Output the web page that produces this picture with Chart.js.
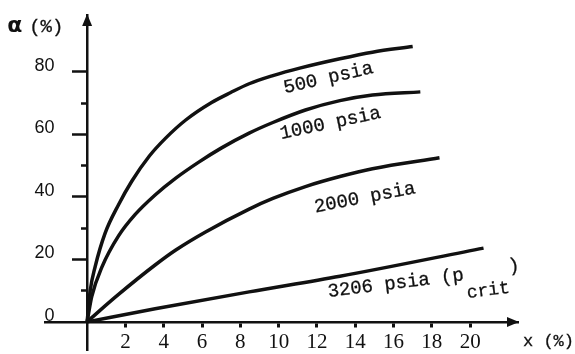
<!DOCTYPE html>
<html>
<head>
<meta charset="utf-8">
<script src="https://cdn.jsdelivr.net/npm/chart.js@4"></script>
<style>
  html, body { margin: 0; padding: 0; background: #fff; }
  canvas { display: block; }
</style>
</head>
<body>
<canvas id="voidChart" width="575" height="354"></canvas>
<script>
// void fraction (alpha) against steam quality x, one curve per pressure

const seriesNames = ['500 psia', '1000 psia', '2000 psia', '3206 psia'];

const x500 = [0, 0.16, 0.42, 0.94, 1.64, 2.33, 3.24, 4.1, 5.15, 6.5, 7.5, 8.46, 9.7, 11.1, 13.2, 14.9, 17.0];
const a500 = [0, 10, 17.7, 28.4, 37.5, 45.0, 53, 58.8, 64.6, 70.2, 73.4, 76.2, 78.8, 81.2, 84.2, 86.3, 88.1];

const x1000 = [0, 0.24, 0.77, 1.64, 2.5, 3.55, 4.63, 5.85, 7.0, 8.46, 9.7, 11.4, 13.2, 14.9, 17.4];
const a1000 = [0, 8.1, 17.5, 27.5, 34.3, 40.6, 46.0, 51.2, 55.6, 60.4, 63.8, 67.8, 70.8, 72.6, 73.6];

const x2000 = [0, 0.6, 1.64, 3.55, 4.63, 6.16, 8.46, 9.7, 11.4, 13.2, 14.9, 18.4];
const a2000 = [0, 3.3, 8.8, 18.2, 23, 28.7, 36.1, 39.5, 43.3, 46.5, 49.0, 52.5];

const x3206 = [0, 3.55, 8.46, 13.2, 20.7];
const a3206 = [0, 4.2, 9.6, 14.6, 23.6];

const xTicks = [2, 4, 6, 8, 10, 12, 14, 16, 18, 20];
const yTicks = [0, 20, 40, 60, 80];
const yMinorTicks = [10, 30, 50, 70];
const yMajorTicks = [20, 40, 60, 80];

const INK = '#111';
const Y_MIN = -9;
const Y_MAX = 98.2;

function toPoints(xs, ys) {
  return xs.map((v, i) => ({ x: v, y: ys[i] }));
}

function curve(label, xs, ys) {
  return {
    label: label,
    data: toPoints(xs, ys),
    showLine: true,
    borderColor: INK,
    borderWidth: 3.5,
    pointRadius: 0,
    cubicInterpolationMode: 'monotone',
    fill: false
  };
}

// typewriter look: fill plus a hairline stroke to thicken the thin mono face
function typeText(ctx, text, x, y) {
  ctx.fillText(text, x, y);
  ctx.strokeText(text, x, y);
}

// arrows, axis titles and the pressure labels along the curves
const decoPlugin = {
  id: 'deco',
  afterDraw(chart) {
    const { ctx, chartArea, scales } = chart;
    const xs = scales.x, ys = scales.y;
    const x0 = xs.getPixelForValue(0);
    const y0 = ys.getPixelForValue(0);

    ctx.save();
    ctx.fillStyle = INK;
    ctx.strokeStyle = INK;
    ctx.lineWidth = 0.3;

    // arrow heads
    ctx.beginPath();
    ctx.moveTo(chartArea.right + 1, y0);
    ctx.lineTo(chartArea.right - 11, y0 - 5);
    ctx.lineTo(chartArea.right - 11, y0 + 5);
    ctx.closePath();
    ctx.fill();

    ctx.beginPath();
    ctx.moveTo(x0, chartArea.top - 1);
    ctx.lineTo(x0 - 5, chartArea.top + 11);
    ctx.lineTo(x0 + 5, chartArea.top + 11);
    ctx.closePath();
    ctx.fill();

    // axis titles
    ctx.textBaseline = 'alphabetic';
    ctx.textAlign = 'left';
    ctx.font = 'bold 22px "DejaVu Sans"';
    ctx.fillText('α', x0 - 80, chartArea.top + 17);
    ctx.font = '19px "Liberation Mono"';
    typeText(ctx, '(%)', x0 - 58, chartArea.top + 17);
    ctx.font = '17px "Liberation Mono"';
    typeText(ctx, 'x (%)', chartArea.right + 5, y0 + 24);

    // curve labels, anchored in data units
    const spots = [
      { x: 12.6, y: 78, rot: -13 },
      { x: 12.7, y: 63.5, rot: -12 },
      { x: 14.5, y: 39.7, rot: -11 }
    ];
    ctx.font = '19px "Liberation Mono"';
    ctx.textAlign = 'center';
    ctx.textBaseline = 'middle';
    spots.forEach((s, i) => {
      ctx.save();
      ctx.translate(xs.getPixelForValue(s.x), ys.getPixelForValue(s.y));
      ctx.rotate(s.rot * Math.PI / 180);
      typeText(ctx, seriesNames[i], 0, 0);
      ctx.restore();
    });

    // critical pressure label with subscript
    ctx.save();
    ctx.translate(xs.getPixelForValue(12.6), ys.getPixelForValue(8.0));
    ctx.rotate(-7 * Math.PI / 180);
    ctx.textAlign = 'left';
    ctx.textBaseline = 'alphabetic';
    const main = seriesNames[3] + ' (p';
    typeText(ctx, main, 0, 0);
    const w = ctx.measureText(main).width;
    ctx.font = '18px "Liberation Mono"';
    typeText(ctx, 'crit', w + 1, 18);
    const wc = ctx.measureText('crit').width;
    ctx.font = '19px "Liberation Mono"';
    typeText(ctx, ')', w + wc + 2, -3);
    ctx.restore();

    ctx.restore();
  }
};

new Chart(document.getElementById('voidChart'), {
  type: 'scatter',
  data: {
    datasets: [
      curve(seriesNames[0], x500, a500),
      curve(seriesNames[1], x1000, a1000),
      curve(seriesNames[2], x2000, a2000),
      curve(seriesNames[3], x3206, a3206)
    ]
  },
  options: {
    responsive: false,
    animation: false,
    devicePixelRatio: 1,
    layout: { padding: { left: 45, right: 57, top: 15, bottom: 4 } },
    plugins: { legend: { display: false }, tooltip: { enabled: false } },
    scales: {
      x: {
        type: 'linear',
        min: -2.2,
        max: 22.5,
        position: { y: 0 },
        afterBuildTicks: (s) => { s.ticks = xTicks.map(v => ({ value: v })); },
        grid: { drawOnChartArea: false, drawTicks: true, tickLength: 4, tickWidth: 3, tickColor: INK },
        border: { display: true, color: INK, width: 2.5 },
        ticks: {
          color: INK,
          font: { family: 'Liberation Serif', size: 21 },
          padding: 4,
          maxRotation: 0,
          autoSkip: false
        }
      },
      // label column of the vertical axis, set off to the left of the axis line
      y: {
        type: 'linear',
        axis: 'y',
        min: Y_MIN,
        max: Y_MAX,
        position: { x: -1.7 },
        afterBuildTicks: (s) => { s.ticks = yTicks.map(v => ({ value: v })); },
        grid: { drawOnChartArea: false, drawTicks: false },
        border: { display: false },
        ticks: {
          color: INK,
          font: { family: 'Liberation Sans', size: 18, lineHeight: 0.2 },
          padding: 0,
          labelOffset: -6
        }
      },
      yMajor: {
        type: 'linear',
        axis: 'y',
        min: Y_MIN,
        max: Y_MAX,
        position: { x: 0 },
        afterBuildTicks: (s) => { s.ticks = yMajorTicks.map(v => ({ value: v })); },
        grid: { drawOnChartArea: false, drawTicks: true, tickLength: 14, tickWidth: 2.5, tickColor: INK },
        border: { display: true, color: INK, width: 2.5 },
        ticks: { display: false }
      },
      yMinor: {
        type: 'linear',
        axis: 'y',
        min: Y_MIN,
        max: Y_MAX,
        position: { x: 0 },
        afterBuildTicks: (s) => { s.ticks = yMinorTicks.map(v => ({ value: v })); },
        grid: { drawOnChartArea: false, drawTicks: true, tickLength: 6, tickWidth: 2.5, tickColor: INK },
        border: { display: false },
        ticks: { display: false }
      }
    }
  },
  plugins: [decoPlugin]
});
</script>
</body>
</html>
